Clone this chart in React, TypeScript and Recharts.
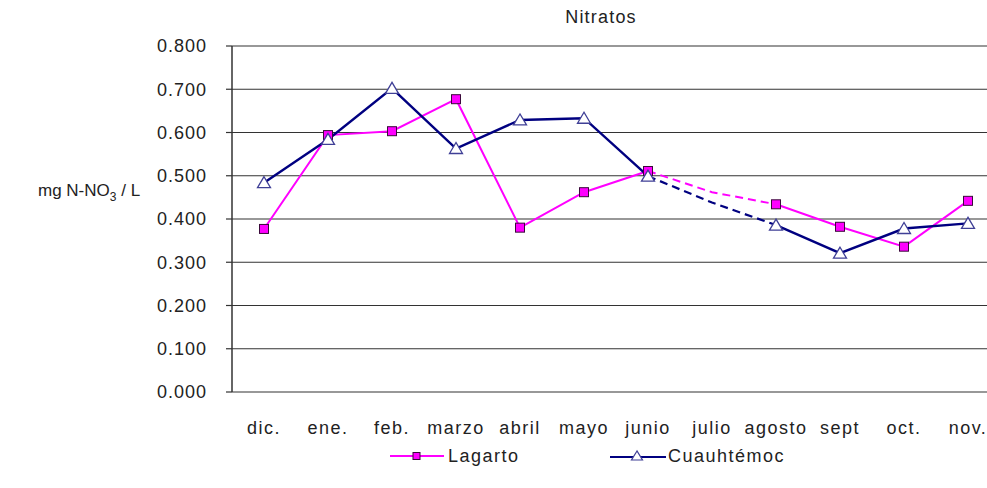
import React from 'react';
import { LineChart, Line, XAxis, YAxis, CartesianGrid, Legend } from 'recharts';

const months = ['dic.', 'ene.', 'feb.', 'marzo', 'abril', 'mayo', 'junio', 'julio', 'agosto', 'sept', 'oct.', 'nov.'];
const lagarto = [0.377, 0.594, 0.603, 0.677, 0.38, 0.462, 0.511, null, 0.434, 0.382, 0.336, 0.442];
const cuauhtemoc = [0.484, 0.584, 0.702, 0.563, 0.629, 0.633, 0.499, null, 0.386, 0.321, 0.378, 0.39];
// junio -> agosto is drawn dashed (julio estimated, no marker)
const lagartoDashed = [null, null, null, null, null, null, 0.511, 0.462, 0.434, null, null, null];
const cuauhtemocDashed = [null, null, null, null, null, null, 0.499, 0.438, 0.386, null, null, null];
const yTicks = [0, 0.1, 0.2, 0.3, 0.4, 0.5, 0.6, 0.7, 0.8];
const edgeTicks = [0, 1, 2, 3, 4, 5, 6, 7, 8, 9, 10, 11, 12];

const data = months.map((month, i) => ({
    month,
    lagarto: lagarto[i],
    cuauhtemoc: cuauhtemoc[i],
    lagartoDashed: lagartoDashed[i],
    cuauhtemocDashed: cuauhtemocDashed[i],
}));

const FONT = "'Liberation Sans', Arial, sans-serif";
const PINK = '#FF00FF';
const NAVY = '#000080';
const AXIS = '#333';

const SquareDot = (props: any) => {
    const { cx, cy, index } = props;
    if (cx == null || cy == null) return <g key={`sq-${index}`} />;
    return <rect key={`sq-${index}`} x={cx - 4.5} y={cy - 4.5} width={9} height={9} fill={PINK} stroke="#3a0a3a" strokeWidth={1} />;
};

const TriangleDot = (props: any) => {
    const { cx, cy, index } = props;
    if (cx == null || cy == null) return <g key={`tr-${index}`} />;
    return (
        <polygon
            key={`tr-${index}`}
            points={`${cx},${cy - 6} ${cx - 6.5},${cy + 5} ${cx + 6.5},${cy + 5}`}
            fill="#fff"
            stroke="#3f3f96"
            strokeWidth={1.3}
        />
    );
};

const renderYLabel = () => (
    <text x={38} y={196} fontFamily={FONT} fontSize={17} fill="#222">
        <tspan>mg N-NO</tspan>
        <tspan fontSize={12} dy={5}>3</tspan>
        <tspan dy={-5}> / L</tspan>
    </text>
);

const renderLegend = () => (
    <div style={{ position: 'relative', height: 30, fontFamily: FONT, fontSize: 18, letterSpacing: 1.5, color: '#222' }}>
        <div style={{ position: 'absolute', left: 390, top: 0, height: 30, display: 'flex', alignItems: 'center' }}>
            <svg width={54} height={14}>
                <line x1={0} y1={7} x2={54} y2={7} stroke={PINK} strokeWidth={2} />
                <rect x={23} y={3.5} width={7} height={7} fill={PINK} stroke="#3a0a3a" strokeWidth={1} />
            </svg>
            <span style={{ marginLeft: 4 }}>Lagarto</span>
        </div>
        <div style={{ position: 'absolute', left: 610, top: 0, height: 30, display: 'flex', alignItems: 'center' }}>
            <svg width={56} height={14}>
                <line x1={0} y1={8} x2={56} y2={8} stroke={NAVY} strokeWidth={2.2} />
                <polygon points="27,2 21.5,11 32.5,11" fill="#fff" stroke="#3f3f96" strokeWidth={1.2} />
            </svg>
            <span style={{ marginLeft: 2 }}>Cuauhtémoc</span>
        </div>
    </div>
);

export default function App() {
    return (
        <div style={{ position: 'fixed', left: 0, top: 0, width: 987, height: 488, overflow: 'hidden', background: '#fff' }}>
            <div
                style={{
                    position: 'absolute',
                    left: 601,
                    top: 7,
                    transform: 'translateX(-50%)',
                    fontFamily: FONT,
                    fontSize: 18,
                    letterSpacing: 1.2,
                    lineHeight: '20px',
                    color: '#222',
                    whiteSpace: 'nowrap',
                }}
            >
                Nitratos
            </div>
            <LineChart width={1000} height={488} data={data} margin={{ top: 46, right: 0, bottom: 17, left: 0 }}>
                <CartesianGrid xAxisId="cat" vertical={false} stroke={AXIS} strokeWidth={1.2} />
                <XAxis
                    xAxisId="edge"
                    type="number"
                    domain={[0, months.length]}
                    ticks={edgeTicks}
                    allowDataOverflow
                    height={0}
                    tickSize={6}
                    tickFormatter={() => ''}
                    axisLine={{ stroke: AXIS, strokeWidth: 1.5 }}
                    tickLine={{ stroke: AXIS, strokeWidth: 1.2 }}
                />
                <XAxis
                    xAxisId="cat"
                    dataKey="month"
                    padding={{ left: 32, right: 32 }}
                    interval={0}
                    height={49}
                    axisLine={false}
                    tickLine={false}
                    tickSize={0}
                    tickMargin={29}
                    tick={{ fontFamily: FONT, fontSize: 18, fill: '#222', letterSpacing: 1.5 }}
                />
                <YAxis
                    width={232}
                    domain={[0, 0.8]}
                    ticks={yTicks}
                    interval={0}
                    tickFormatter={(v: number) => v.toFixed(3)}
                    tickSize={6}
                    tickMargin={19}
                    axisLine={{ stroke: AXIS, strokeWidth: 1.5 }}
                    tickLine={{ stroke: AXIS, strokeWidth: 1.2 }}
                    tick={{ fontFamily: FONT, fontSize: 18, fill: '#222', letterSpacing: 1 }}
                    label={renderYLabel}
                />
                <Legend verticalAlign="bottom" height={30} wrapperStyle={{ left: 0, width: 1000 }} content={renderLegend} />
                <Line xAxisId="cat" dataKey="lagartoDashed" stroke={PINK} strokeWidth={2} strokeDasharray="8 5" dot={false} legendType="none" isAnimationActive={false} />
                <Line xAxisId="cat" dataKey="cuauhtemocDashed" stroke={NAVY} strokeWidth={2.2} strokeDasharray="8 5" dot={false} legendType="none" isAnimationActive={false} />
                <Line xAxisId="cat" dataKey="lagarto" name="Lagarto" stroke={PINK} strokeWidth={2} dot={SquareDot} isAnimationActive={false} />
                <Line xAxisId="cat" dataKey="cuauhtemoc" name="Cuauhtémoc" stroke={NAVY} strokeWidth={2.4} dot={TriangleDot} isAnimationActive={false} />
            </LineChart>
        </div>
    );
}
